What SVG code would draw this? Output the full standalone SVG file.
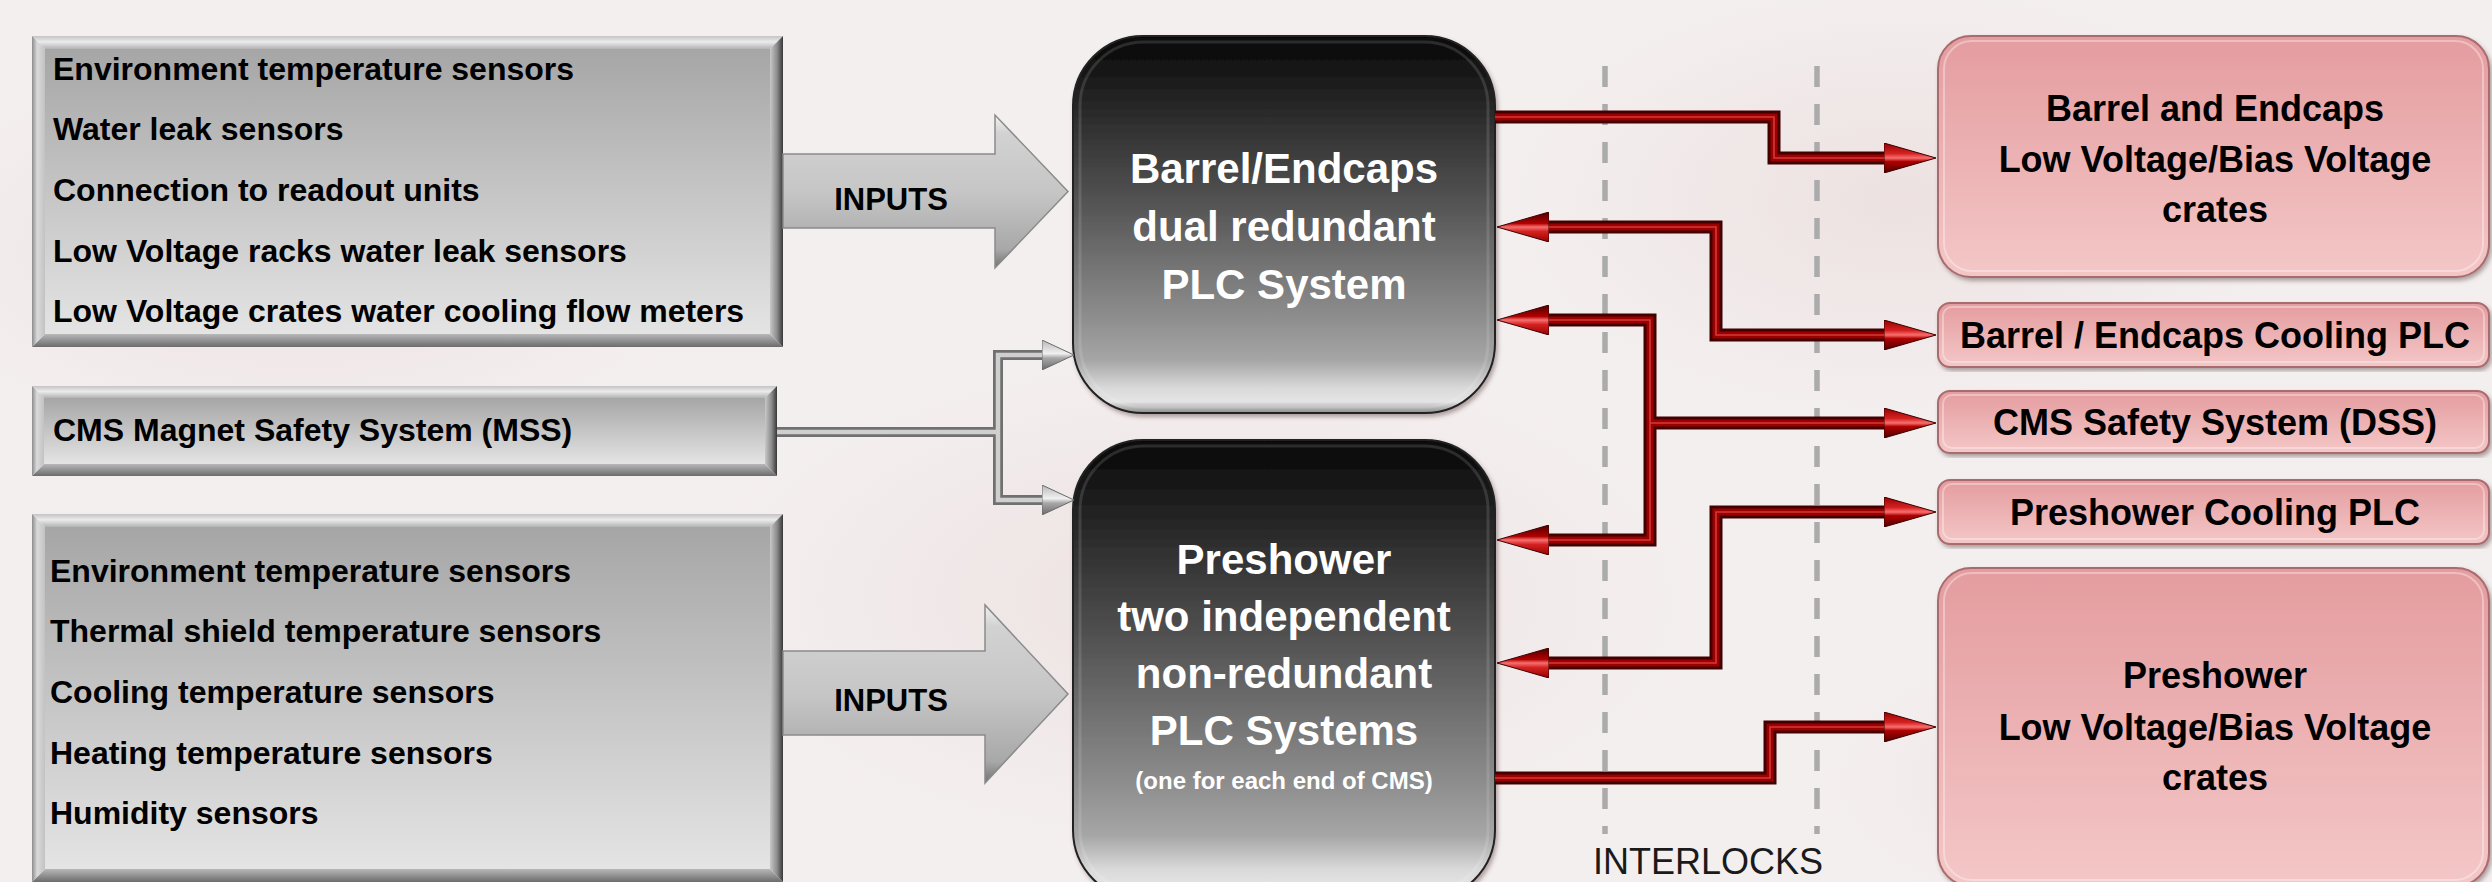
<svg xmlns="http://www.w3.org/2000/svg" width="2492" height="882" viewBox="0 0 2492 882">
<defs>
<style>
text{font-family:"Liberation Sans",Arial,sans-serif;font-weight:bold}
.lst{font-size:32px;fill:#000}
.plc{font-size:42px;fill:#fff;text-anchor:middle}
.plcs{font-size:24px;fill:#fff;text-anchor:middle}
.pk{font-size:36px;fill:#000;text-anchor:middle}
.inp{font-size:31px;fill:#000;text-anchor:middle}
.il{font-size:36px;font-weight:normal;fill:#1a1a1a;text-anchor:middle}
.face{fill:url(#gFace)}
.bt{fill:url(#gBT)}
.bb{fill:url(#gBB)}
.bl{fill:url(#gBL)}
.br{fill:url(#gBR)}
.plcbox{fill:url(#gPLC);stroke:#222;stroke-width:2;filter:url(#shadow)}
.plcin{fill:none;stroke:#fff;stroke-opacity:0.13;stroke-width:3}
.pink{fill:url(#gPink);stroke:#a86c6e;stroke-width:2;filter:url(#shadow)}
.pinkin{fill:none;stroke:#fff;stroke-opacity:0.35;stroke-width:2}
.bigarrow{fill:url(#gArrow);stroke:#8a8a8a;stroke-width:1.5}
.r1{fill:none;stroke:#420000;stroke-width:13;stroke-linejoin:miter}
.r2{fill:none;stroke:#9c0000;stroke-width:7;stroke-linejoin:miter}
.r3{fill:none;stroke:#d23a3a;stroke-width:1.6;stroke-linejoin:miter}
.g1{fill:none;stroke:#707070;stroke-width:10}
.g2{fill:none;stroke:#cfcfcf;stroke-width:4.5}
.dash{stroke:#ababab;stroke-width:5.5;stroke-dasharray:21 17}
</style>
<linearGradient id="gFace" x1="0" y1="0" x2="0" y2="1"><stop offset="0" stop-color="#a6a6a6"/><stop offset="1" stop-color="#e4e4e4"/></linearGradient>
<linearGradient id="gBT" x1="0" y1="0" x2="0" y2="1"><stop offset="0" stop-color="#c4c4c4"/><stop offset="0.45" stop-color="#ebebeb"/><stop offset="1" stop-color="#b2b2b2"/></linearGradient>
<linearGradient id="gBB" x1="0" y1="0" x2="0" y2="1"><stop offset="0" stop-color="#b8b8b8"/><stop offset="1" stop-color="#6c6c6c"/></linearGradient>
<linearGradient id="gBL" x1="0" y1="0" x2="1" y2="0"><stop offset="0" stop-color="#8c8c8c"/><stop offset="0.4" stop-color="#dadada"/><stop offset="1" stop-color="#c2c2c2"/></linearGradient>
<linearGradient id="gBR" x1="0" y1="0" x2="1" y2="0"><stop offset="0" stop-color="#c8c8c8"/><stop offset="0.55" stop-color="#8a8a8a"/><stop offset="1" stop-color="#383838"/></linearGradient>
<linearGradient id="gPLC" x1="0" y1="0" x2="0" y2="1"><stop offset="0" stop-color="#060606"/><stop offset="0.1" stop-color="#181818"/><stop offset="0.45" stop-color="#555"/><stop offset="0.75" stop-color="#8e8e8e"/><stop offset="0.86" stop-color="#a6a6a6"/><stop offset="0.935" stop-color="#dadada"/><stop offset="0.97" stop-color="#e4e4e4"/><stop offset="1" stop-color="#8c8c8c"/></linearGradient>
<linearGradient id="gPink" x1="0" y1="0" x2="0" y2="1"><stop offset="0" stop-color="#e49c9f"/><stop offset="1" stop-color="#f4c7c7"/></linearGradient>
<linearGradient id="gArrow" x1="0" y1="0" x2="0" y2="1"><stop offset="0" stop-color="#f2f2f2"/><stop offset="0.12" stop-color="#d2d2d2"/><stop offset="0.5" stop-color="#c6c6c6"/><stop offset="0.88" stop-color="#a8a8a8"/><stop offset="1" stop-color="#727272"/></linearGradient>
<linearGradient id="gRedHead" x1="0" y1="0" x2="0" y2="1"><stop offset="0" stop-color="#9a0000"/><stop offset="0.35" stop-color="#d42222"/><stop offset="0.5" stop-color="#f87070"/><stop offset="0.62" stop-color="#b00000"/><stop offset="1" stop-color="#4e0000"/></linearGradient>
<linearGradient id="gGrayHead" x1="0" y1="0" x2="0" y2="1"><stop offset="0" stop-color="#b8b8b8"/><stop offset="0.45" stop-color="#f0f0f0"/><stop offset="0.6" stop-color="#a8a8a8"/><stop offset="1" stop-color="#6a6a6a"/></linearGradient>
<radialGradient id="gBlob" cx="0.5" cy="0.5" r="0.5"><stop offset="0" stop-color="#e8d8d8" stop-opacity="0.6"/><stop offset="1" stop-color="#e8d8d8" stop-opacity="0"/></radialGradient>
<filter id="shadow" x="-5%" y="-5%" width="112%" height="112%"><feDropShadow dx="2" dy="3" stdDeviation="2" flood-color="#5a4040" flood-opacity="0.45"/></filter>
<marker id="redHead" markerUnits="userSpaceOnUse" viewBox="0 0 52 30" refX="4" refY="15" markerWidth="52" markerHeight="30" orient="auto-start-reverse"><path d="M0,0 L52,15 L0,30 Z" fill="url(#gRedHead)" stroke="#3a0000" stroke-width="1"/></marker>
<marker id="grayHead" markerUnits="userSpaceOnUse" viewBox="0 0 32 30" refX="2" refY="15" markerWidth="32" markerHeight="30" orient="auto-start-reverse"><path d="M0,0 L32,15 L0,30 Z" fill="url(#gGrayHead)" stroke="#6a6a6a" stroke-width="1"/></marker>
</defs>

<rect width="2492" height="882" fill="#f4efef"/>
<ellipse cx="300" cy="250" rx="420" ry="200" fill="url(#gBlob)"/>
<ellipse cx="1200" cy="600" rx="500" ry="250" fill="url(#gBlob)"/>
<ellipse cx="1900" cy="200" rx="400" ry="220" fill="url(#gBlob)"/>
<ellipse cx="2200" cy="780" rx="380" ry="160" fill="url(#gBlob)"/>

<!-- interlock zone dashed lines -->
<g id="interlock-zone">
<line class="dash" x1="1605" y1="66" x2="1605" y2="834"/>
<line class="dash" x1="1817" y1="66" x2="1817" y2="834"/>
<text class="il" x="1708" y="874">INTERLOCKS</text>
</g>

<!-- left input boxes -->
<g id="inputs-barrel">
<rect class="face" x="45" y="49" width="725" height="285"/>
<polygon class="bt" points="32,36 783,36 770,49 45,49"/>
<polygon class="bb" points="32,347 783,347 770,334 45,334"/>
<polygon class="bl" points="32,36 45,49 45,334 32,347"/>
<polygon class="br" points="783,36 770,49 770,334 783,347"/>
<text class="lst" x="53" y="80">Environment temperature sensors</text>
<text class="lst" x="53" y="140">Water leak sensors</text>
<text class="lst" x="53" y="201">Connection to readout units</text>
<text class="lst" x="53" y="262">Low Voltage racks water leak sensors</text>
<text class="lst" x="53" y="322">Low Voltage crates water cooling flow meters</text>
</g>

<g id="input-mss">
<rect class="face" x="44" y="398" width="721" height="66"/>
<polygon class="bt" points="32,386 777,386 765,398 44,398"/>
<polygon class="bb" points="32,476 777,476 765,464 44,464"/>
<polygon class="bl" points="32,386 44,398 44,464 32,476"/>
<polygon class="br" points="777,386 765,398 765,464 777,476"/>
<text class="lst" x="53" y="441">CMS Magnet Safety System (MSS)</text>
</g>

<g id="inputs-preshower">
<rect class="face" x="45" y="527" width="725" height="342"/>
<polygon class="bt" points="32,514 783,514 770,527 45,527"/>
<polygon class="bb" points="32,882 783,882 770,869 45,869"/>
<polygon class="bl" points="32,514 45,527 45,869 32,882"/>
<polygon class="br" points="783,514 770,527 770,869 783,882"/>
<text class="lst" x="50" y="582">Environment temperature sensors</text>
<text class="lst" x="50" y="642">Thermal shield temperature sensors</text>
<text class="lst" x="50" y="703">Cooling temperature sensors</text>
<text class="lst" x="50" y="764">Heating temperature sensors</text>
<text class="lst" x="50" y="824">Humidity sensors</text>
</g>

<!-- big INPUTS arrows -->
<g id="arrow-inputs-top">
<polygon class="bigarrow" points="783,154 995,154 995,115 1068,191.5 995,268 995,228 783,228"/>
<text class="inp" x="891" y="210">INPUTS</text>
</g>
<g id="arrow-inputs-bottom">
<polygon class="bigarrow" points="783,651 985,651 985,605 1068,694 985,783 985,735 783,735"/>
<text class="inp" x="891" y="711">INPUTS</text>
</g>

<!-- PLC systems -->
<g id="plc-barrel">
<rect class="plcbox" x="1073" y="36" width="422" height="377" rx="70" ry="70"/>
<rect class="plcin" x="1080" y="42" width="408" height="365" rx="64" ry="64"/>
<text class="plc" x="1284" y="183">Barrel/Endcaps</text>
<text class="plc" x="1284" y="241">dual redundant</text>
<text class="plc" x="1284" y="299">PLC System</text>
</g>

<g id="plc-preshower">
<rect class="plcbox" x="1073" y="440" width="422" height="460" rx="70" ry="70"/>
<rect class="plcin" x="1080" y="446" width="408" height="448" rx="64" ry="64"/>
<text class="plc" x="1284" y="574">Preshower</text>
<text class="plc" x="1284" y="631">two independent</text>
<text class="plc" x="1284" y="688">non-redundant</text>
<text class="plc" x="1284" y="745">PLC Systems</text>
<text class="plcs" x="1284" y="789">(one for each end of CMS)</text>
</g>

<!-- output boxes -->
<g id="out-barrel-crates">
<rect class="pink" x="1938" y="36" width="551" height="241" rx="33" ry="33"/>
<rect class="pinkin" x="1944" y="41" width="539" height="230" rx="28" ry="28"/>
<text class="pk" x="2215" y="121">Barrel and Endcaps</text>
<text class="pk" x="2215" y="172">Low Voltage/Bias Voltage</text>
<text class="pk" x="2215" y="222">crates</text>
</g>
<g id="out-barrel-cooling">
<rect class="pink" x="1938" y="303" width="551" height="64" rx="12" ry="12"/>
<rect class="pinkin" x="1943" y="307" width="541" height="55" rx="9" ry="9"/>
<text class="pk" x="2215" y="348">Barrel / Endcaps Cooling PLC</text>
</g>
<g id="out-dss">
<rect class="pink" x="1938" y="391" width="551" height="62" rx="12" ry="12"/>
<rect class="pinkin" x="1943" y="395" width="541" height="53" rx="9" ry="9"/>
<text class="pk" x="2215" y="435">CMS Safety System (DSS)</text>
</g>
<g id="out-preshower-cooling">
<rect class="pink" x="1938" y="480" width="551" height="64" rx="12" ry="12"/>
<rect class="pinkin" x="1943" y="484" width="541" height="55" rx="9" ry="9"/>
<text class="pk" x="2215" y="525">Preshower Cooling PLC</text>
</g>
<g id="out-preshower-crates">
<rect class="pink" x="1938" y="568" width="551" height="318" rx="33" ry="33"/>
<rect class="pinkin" x="1944" y="573" width="539" height="307" rx="28" ry="28"/>
<text class="pk" x="2215" y="688">Preshower</text>
<text class="pk" x="2215" y="740">Low Voltage/Bias Voltage</text>
<text class="pk" x="2215" y="790">crates</text>
</g>

<!-- connectors -->
<g id="connectors">
<!-- MSS input -->
<path class="g1" d="M777,432 H998"/>
<path class="g1" d="M1044,355 H998 V500 H1044"/>
<path class="g2" d="M777,432 H998"/>
<path class="g2" d="M1044,355 H998 V500 H1044" marker-start="url(#grayHead)" marker-end="url(#grayHead)"/>

<!-- interlocks -->
<path class="r1" d="M1495,117 H1774 V158 H1888"/>
<path class="r1" d="M1545,227 H1716 V335 H1888"/>
<path class="r1" d="M1545,320 H1650 V540 H1545"/>
<path class="r1" d="M1650,423 H1888"/>
<path class="r1" d="M1545,663 H1716 V512 H1888"/>
<path class="r1" d="M1495,778 H1770 V727 H1888"/>

<path class="r2" d="M1495,117 H1774 V158 H1888"/>
<path class="r2" d="M1545,227 H1716 V335 H1888"/>
<path class="r2" d="M1545,320 H1650 V540 H1545"/>
<path class="r2" d="M1650,423 H1888"/>
<path class="r2" d="M1545,663 H1716 V512 H1888"/>
<path class="r2" d="M1495,778 H1770 V727 H1888"/>

<path class="r3" d="M1495,117 H1774 V158 H1888" marker-end="url(#redHead)"/>
<path class="r3" d="M1545,227 H1716 V335 H1888" marker-start="url(#redHead)" marker-end="url(#redHead)"/>
<path class="r3" d="M1545,320 H1650 V540 H1545" marker-start="url(#redHead)" marker-end="url(#redHead)"/>
<path class="r3" d="M1650,423 H1888" marker-end="url(#redHead)"/>
<path class="r3" d="M1545,663 H1716 V512 H1888" marker-start="url(#redHead)" marker-end="url(#redHead)"/>
<path class="r3" d="M1495,778 H1770 V727 H1888" marker-end="url(#redHead)"/>
</g>
</svg>
